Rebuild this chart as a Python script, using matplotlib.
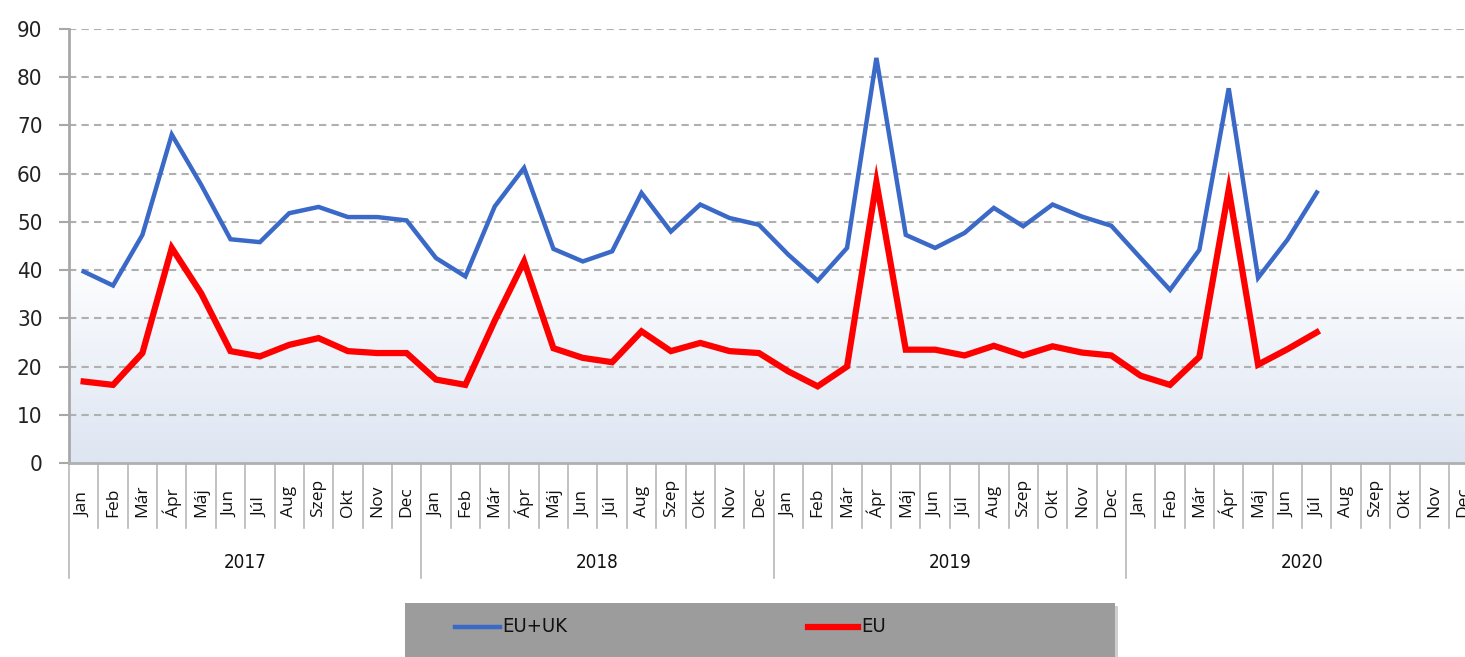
import numpy as np
from matplotlib import pyplot as plt
from matplotlib.patches import Rectangle
from matplotlib.lines import Line2D
import matplotlib.transforms as mtransforms

# data
years = ['2017', '2018', '2019', '2020']
months = ['Jan', 'Feb', 'Már', 'Ápr', 'Máj', 'Jun', 'Júl', 'Aug', 'Szep', 'Okt', 'Nov', 'Dec']

eu_uk = [39.7, 36.8, 47.3, 68.1, 57.7, 46.4, 45.8, 51.8, 53.1, 51.0, 51.0, 50.3,
         42.5, 38.7, 53.2, 61.2, 44.4, 41.8, 43.9, 56.0, 48.0, 53.6, 50.8, 49.4,
         43.2, 37.8, 44.6, 84.0, 47.3, 44.6, 47.7, 52.9, 49.1, 53.6, 51.1, 49.2,
         42.5, 35.9, 44.2, 77.7, 38.4, 46.3, 56.1]
eu = [16.9, 16.2, 22.8, 44.6, 35.2, 23.2, 22.1, 24.5, 25.9, 23.2, 22.8, 22.8,
      17.3, 16.2, 29.5, 41.8, 23.8, 21.8, 20.9, 27.3, 23.2, 24.9, 23.2, 22.8,
      19.0, 15.9, 20.0, 58.2, 23.5, 23.5, 22.3, 24.3, 22.3, 24.2, 22.9, 22.3,
      18.1, 16.2, 22.0, 56.7, 20.4, 23.6, 27.1]

W, H = 1465, 657
fig = plt.figure(figsize=(W / 100, H / 100), dpi=100)
fig.patch.set_facecolor('white')

ax_l, ax_r, ax_t, ax_b = 69, 1465, 29, 463
ax = fig.add_axes([ax_l / W, 1 - ax_b / H, (ax_r - ax_l) / W, (ax_b - ax_t) / H])

n_cat = len(years) * len(months)
cat_w = 29.36
x_hi = -0.5 + (ax_r - ax_l) / cat_w
ax.set_xlim(-0.5, x_hi)
ax.set_ylim(0, 90)

# background gradient, white above ~42 then fading to pale blue
vals = np.linspace(90, 0, 300)
frac = np.clip((42 - vals) / 42, 0, 1) ** 0.9
top = np.array([1.0, 1.0, 1.0])
bot = np.array([0.87, 0.90, 0.95])
grad = top[None, :] * (1 - frac[:, None]) + bot[None, :] * frac[:, None]
ax.imshow(grad[:, None, :], extent=[-0.5, x_hi, 0, 90], aspect='auto', zorder=0)

for v in range(10, 100, 10):
    ax.axhline(v, color='#b0b0b0', lw=1.5, ls=(0, (3.5, 2.5)), zorder=1)

x = np.arange(len(eu_uk))
ax.plot(x, eu_uk, color='#3a69c8', lw=3.2, zorder=3, solid_joinstyle='miter')
ax.plot(np.arange(len(eu)), eu, color='#ff0000', lw=4.5, zorder=4, solid_joinstyle='miter')

for s in ['top', 'right']:
    ax.spines[s].set_visible(False)
ax.spines['left'].set_color('#a8a8a8')
ax.spines['left'].set_linewidth(2)
ax.spines['bottom'].set_color('#b0b0b0')
ax.spines['bottom'].set_linewidth(2)

ax.set_yticks(range(0, 100, 10))
ax.tick_params(axis='y', length=7, width=1.5, color='#a8a8a8', pad=12, labelsize=16)
ax.set_xticks([])
for lab in ax.get_yticklabels():
    lab.set_fontstretch('condensed')
    lab.set_color('#222222')

# category axis drawn by hand below the plot
trans = mtransforms.blended_transform_factory(ax.transData, fig.transFigure)
def fy(py):
    return 1 - py / H

for i in range(n_cat + 1):
    xb = i - 0.5
    if xb > x_hi:
        break
    if i % 12 == 0:
        y_end = 578
    else:
        y_end = 528
    ax.add_line(Line2D([xb, xb], [fy(463), fy(y_end)], transform=trans,
                       color='#b8b8b8', lw=1.2, clip_on=False))

for i in range(n_cat):
    if i - 0.3 > x_hi:
        break
    ax.text(i, fy(517), months[i % 12], transform=trans, rotation=90,
            ha='center', va='bottom', fontsize=12.5, color='#111111',
            family=['Open Sans', 'DejaVu Sans'], clip_on=False)

for k, yr in enumerate(years):
    ax.text(k * 12 + 5.5, fy(562), yr, transform=trans, ha='center', va='center',
            fontsize=13.5, color='#111111', fontstretch='condensed')

# legend box
fig.patches.append(Rectangle((408 / W, 0), (1118 - 408) / W, (H - 606) / H,
                             transform=fig.transFigure, facecolor='#cfcfcf',
                             edgecolor='none', zorder=1))
fig.patches.append(Rectangle((405 / W, 0), (1115 - 405) / W, (H - 603) / H,
                             transform=fig.transFigure, facecolor='#9c9c9c',
                             edgecolor='none', zorder=2))
fig.lines.append(Line2D([455 / W, 500 / W], [fy(627), fy(627)], transform=fig.transFigure,
                        color='#3a69c8', lw=3.2, zorder=3))
fig.text(502 / W, fy(627), 'EU+UK', ha='left', va='center', fontsize=14.5,
         fontstretch='condensed', color='#111111')
fig.lines.append(Line2D([808 / W, 858 / W], [fy(627), fy(627)], transform=fig.transFigure,
                        color='#ff0000', lw=4.5, zorder=3))
fig.text(861 / W, fy(627), 'EU', ha='left', va='center', fontsize=14.5,
         fontstretch='condensed', color='#111111')

fig.savefig('out.png', dpi=100)
